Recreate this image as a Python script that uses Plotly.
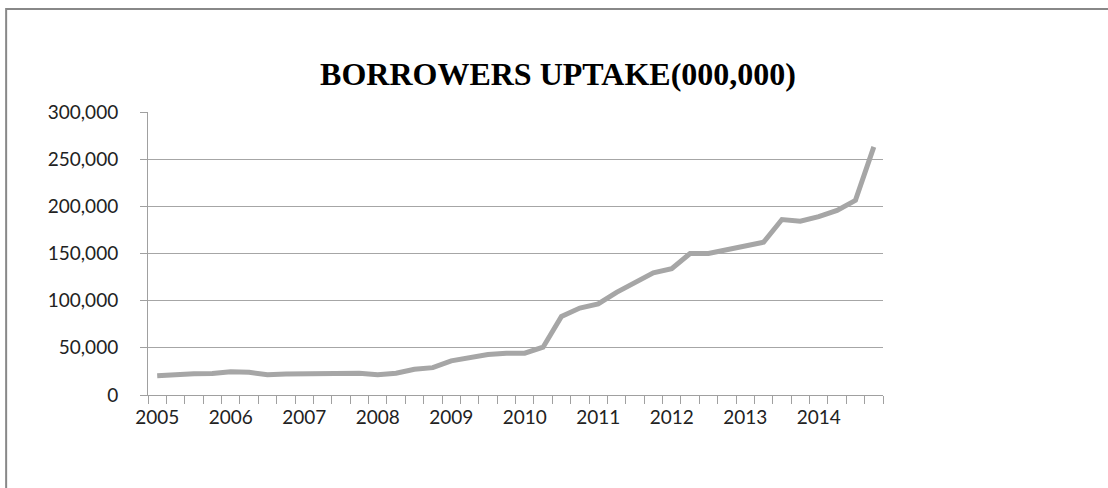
import plotly.graph_objects as go

years = ["2005", "2006", "2007", "2008", "2009", "2010", "2011", "2012", "2013", "2014"]
quarter_index = list(range(1, 41))
uptake = [
    20400, 21900, 22500, 22900, 24700, 24000, 21500, 22200, 22600, 23000,
    23600, 23000, 21600, 23000, 27300, 29000, 36200, 39000, 42900, 44300,
    44300, 50700, 83300, 92200, 96500, 108800, 119500, 129500, 134000, 150000,
    150000, 154000, 157000, 162000, 186000, 184300, 189000, 195700, 206300, 263000,
]
year_ticks = [1 + 4 * i for i in range(len(years))]
y_ticks = [0, 50000, 100000, 150000, 200000, 250000, 300000]

fig = go.Figure()
fig.add_trace(go.Scatter(
    x=quarter_index, y=uptake, mode="lines",
    line=dict(color="#a6a6a6", width=5),
    hoverinfo="skip", showlegend=False,
))

axis_font = dict(family="Lato, Carlito, Liberation Sans, sans-serif", size=19, color="#222")

fig.update_layout(
    width=1108, height=488,
    margin=dict(l=148, r=225, t=112, b=93),
    paper_bgcolor="white", plot_bgcolor="white",
    title=dict(
        text="<b>BORROWERS UPTAKE(000,000)</b>",
        font=dict(family="Liberation Serif, Times New Roman, serif", size=32, color="black"),
        x=558 / 1108, xanchor="center", xref="container",
        y=1 - 74 / 488, yanchor="middle", yref="container",
    ),
    xaxis=dict(
        range=[0.5, 40.5], tickmode="array", tickvals=year_ticks, ticktext=years,
        ticks="", showgrid=False, zeroline=False,
        showline=True, linecolor="#a0a0a0", linewidth=1,
        tickfont=axis_font, ticklabelstandoff=5,
        minor=dict(tick0=0.5, dtick=1, ticks="outside", ticklen=8, tickcolor="#a0a0a0", tickwidth=1, showgrid=False),
    ),
    yaxis=dict(
        range=[0, 300000], tickmode="array", tickvals=y_ticks,
        tickformat=",", showgrid=True, gridcolor="#a6a6a6", gridwidth=1,
        zeroline=False, showline=True, linecolor="#a0a0a0", linewidth=1,
        ticks="outside", ticklen=7, tickcolor="#a0a0a0",
        tickfont=axis_font, ticklabelstandoff=18,
    ),
    shapes=[dict(
        type="rect", xref="paper", yref="paper",
        x0=-0.193, x1=1.31, y0=-0.40, y1=1.364,
        line=dict(color="#888888", width=2), fillcolor="rgba(0,0,0,0)", layer="below",
    )],
)

fig.write_html("out.html")
